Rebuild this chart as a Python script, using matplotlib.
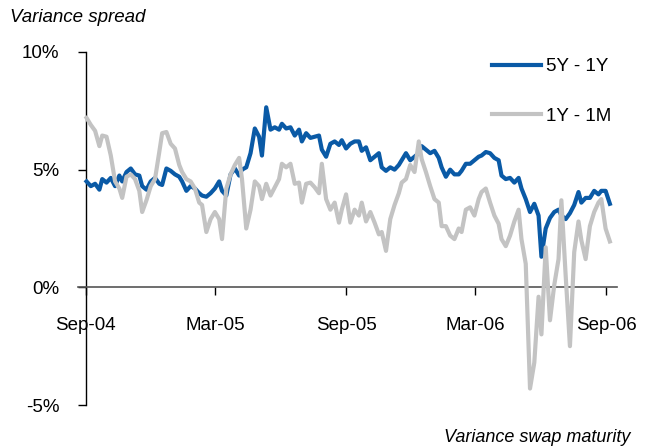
import matplotlib.pyplot as plt
import matplotlib.dates as mdates
import pandas as pd

# Variance spread (%), one point every 4 business days from early Sep-04
spread_5y_1y = [
    4.5, 4.3, 4.4, 4.15, 4.6, 4.45, 4.65, 4.3, 4.75, 4.5,
    4.9, 5.05, 4.8, 4.75, 4.3, 4.15, 4.5, 4.65, 4.4, 4.35,
    5.05, 4.95, 4.8, 4.7, 4.5, 4.1, 4.3, 4.2, 4.0, 3.9,
    3.85, 4.0, 4.2, 4.5, 4.1, 3.9, 4.8, 5.05, 4.75, 5.0,
    5.1, 5.7, 6.75, 6.4, 5.6, 7.65, 6.7, 6.8, 6.7, 6.95,
    6.75, 6.8, 6.45, 6.7, 6.2, 6.55, 6.35, 6.4, 6.45, 5.85,
    5.55, 6.1, 6.2, 6.05, 6.25, 5.9, 6.1, 6.2, 6.2, 5.8,
    5.95, 5.4, 5.55, 5.7, 5.1, 4.95, 5.1, 5.0, 5.2, 5.4,
    5.7, 5.4, 5.55, 5.7, 6.0, 5.85, 5.7, 5.8, 5.5, 5.1,
    4.7, 5.0, 4.8, 4.8, 4.95, 5.25, 5.25, 5.4, 5.55, 5.6,
    5.75, 5.7, 5.5, 5.4, 4.75, 4.6, 4.65, 4.45, 4.65, 4.2,
    3.75, 3.2, 3.55, 3.05, 1.3, 2.5, 2.95, 3.2, 3.3, 3.05,
    2.9, 3.15, 3.5, 4.05, 3.6, 3.8, 3.8, 4.1, 3.95, 4.1,
    4.1, 3.55,
]
spread_1y_1m = [
    7.2, 6.9, 6.65, 6.0, 6.45, 6.4, 5.6, 4.5, 4.2, 3.8,
    4.7, 4.8, 4.6, 4.1, 3.2, 3.7, 4.3, 4.6, 5.75, 6.55,
    6.6, 6.1, 5.9, 5.2, 4.9, 4.6, 4.5, 4.2, 3.6, 3.5,
    2.35, 2.9, 3.2, 2.9, 2.05, 4.2, 4.8, 5.2, 5.5, 4.6,
    2.5, 3.3, 4.5, 4.3, 3.75, 4.4, 3.9, 4.25, 4.6, 5.25,
    5.1, 5.25, 4.4, 4.45, 3.6, 4.4, 4.45, 4.25, 4.0, 5.25,
    3.75, 3.3, 3.6, 2.75, 3.3, 3.95, 2.75, 3.3, 3.05, 3.6,
    2.8, 3.2, 2.75, 2.25, 2.35, 1.55, 2.9, 3.5, 4.0, 4.45,
    4.6, 5.2, 4.9, 6.2, 5.45, 4.9, 4.3, 3.75, 3.6, 2.6,
    2.6, 2.2, 2.05, 2.5, 2.35, 3.3, 3.4, 3.05, 3.75, 4.05,
    4.2, 3.6, 3.05, 2.7, 2.05, 1.75, 2.2, 2.8, 3.3, 2.05,
    1.0, -4.3, -3.2, -0.4, -2.0, 1.7, -1.4, 0.1, 1.2, 3.7,
    0.5, -2.5, 1.5, 2.8, 2.0, 1.2, 2.6, 3.2, 3.6, 3.75,
    2.5, 1.95,
]
series_names = ['5Y - 1Y', '1Y - 1M']
tick_dates = ['2004-09-01', '2005-03-01', '2005-09-01', '2006-03-01', '2006-09-01']
tick_labels = ['Sep-04', 'Mar-05', 'Sep-05', 'Mar-06', 'Sep-06']
y_ticks = [-5, 0, 5, 10]
y_labels = ['-5%', '0%', '5%', '10%']

dates = pd.bdate_range('2004-09-02', periods=len(spread_5y_1y), freq='4B')

plt.rcParams['font.family'] = ['Liberation Sans', 'DejaVu Sans']

W, H = 647, 446
fig = plt.figure(figsize=(W / 100, H / 100), dpi=100)
ax = fig.add_axes([78 / W, 1 - 405 / H, (617 - 78) / W, (405 - 52) / H])

ax.plot(dates, spread_5y_1y, color='#0A5AA6', lw=3.0, label=series_names[0], zorder=3)
ax.plot(dates, spread_1y_1m, color='#C3C3C3', lw=3.0, label=series_names[1], zorder=3)

start = pd.Timestamp(tick_dates[0])
end = pd.Timestamp(tick_dates[-1])
ax.set_xlim(start - pd.Timedelta(days=11), end + pd.Timedelta(days=15))
ax.set_ylim(-5, 10)

# axes: y axis at first date, x axis through zero
for s in ['top', 'right']:
    ax.spines[s].set_visible(False)
ax.spines['left'].set_position(('data', mdates.date2num(start)))
ax.spines['bottom'].set_position(('data', 0))
ax.spines['left'].set_color('black')
ax.spines['bottom'].set_color('#555555')
ax.spines['left'].set_linewidth(1.0)
ax.spines['bottom'].set_linewidth(1.2)

ax.set_xticks(pd.to_datetime(tick_dates))
ax.set_xticklabels(tick_labels)
ax.set_yticks(y_ticks)
ax.set_yticklabels(y_labels)
ax.tick_params(axis='x', direction='out', length=6, width=1, pad=15, labelsize=13.5, color='black')
ax.tick_params(axis='y', direction='out', length=6, width=1, pad=13, labelsize=13.5, color='black')

ax.legend(loc='upper left', bbox_to_anchor=(492 / W, 1 - 58 / H), bbox_transform=fig.transFigure,
          frameon=False, fontsize=13.5, handlelength=2.6, handletextpad=0.3,
          labelspacing=1.75, borderpad=0, borderaxespad=0)

fig.text(10 / W, 1 - 18 / H, 'Variance spread', style='italic', fontsize=13.5, ha='left', va='center')
fig.text(630 / W, 1 - 437 / H, 'Variance swap maturity', style='italic', fontsize=13,
         ha='right', va='center')

plt.savefig('out.png', dpi=100)
